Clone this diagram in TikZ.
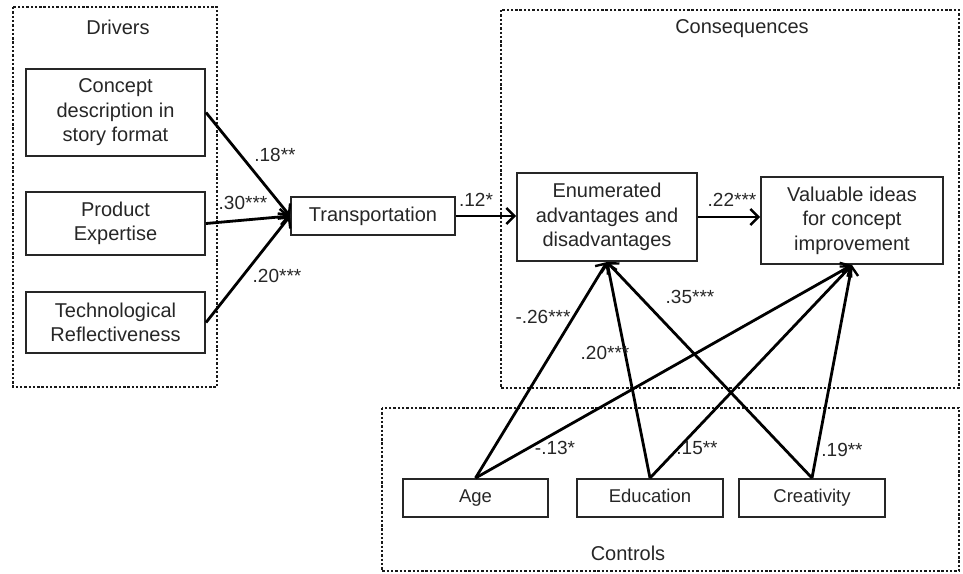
\documentclass[tikz,border=0pt]{standalone}
\usepackage{fontspec}
\setmainfont{Liberation Sans}
\usetikzlibrary{arrows.meta}
\begin{document}
\begin{tikzpicture}[x=1pt,y=-1pt,
  box/.style={draw=black!85, line width=2pt, rectangle, inner sep=0pt, align=center,
     font=\fontsize{20}{24.5}\selectfont, text=black!85},
  cbox/.style={box, font=\fontsize{18.5}{22}\selectfont, text height=13.5pt, text depth=4pt},
  group/.style={draw=black!90, line width=2.8pt, dash pattern=on 2.4pt off 1.9pt},
  gtitle/.style={font=\fontsize{20}{24}\selectfont, text=black!85, inner sep=0pt},
  lab/.style={font=\fontsize{19}{22}\selectfont, text=black!85, inner sep=0pt},
  arr/.style={draw=black, line width=2.8pt, -{Straight Barb[length=8pt,width=16pt,line width=2.4pt]}}
]
\useasboundingbox (0,0) rectangle (963,573);
% groups
\draw[group] (13,7) rectangle (217,387);
\draw[group] (501,10) rectangle (959,388);
\draw[group] (382,408) rectangle (959,571);
\node[gtitle] (tdrv) at (118,27) {Drivers};
\node[gtitle] (tcons) at (742,29) {Consequences};
\node[gtitle] (tctrl) at (628,553) {Controls};
% boxes
\node[box, minimum width=179pt, minimum height=87pt] (cd) at (115.5,112.5) {Concept\\description in\\story format};
\node[box, minimum width=179pt, minimum height=63pt] (pe) at (115.5,223.5) {Product\\Expertise};
\node[box, minimum width=179pt, minimum height=61pt] (tref) at (115.5,322.5) {Technological\\Reflectiveness};
\node[box, minimum width=164pt, minimum height=38pt] (trn) at (373,216) {Transportation};
\node[box, minimum width=180pt, minimum height=88pt] (en) at (607,217) {Enumerated\\advantages and\\disadvantages};
\node[box, minimum width=182pt, minimum height=87pt] (va) at (852,220.5) {Valuable ideas\\for concept\\improvement};
\node[cbox, minimum width=145pt, minimum height=38pt] (age) at (475.5,498) {Age};
\node[cbox, minimum width=146pt, minimum height=38pt] (edu) at (650,498) {Education};
\node[cbox, minimum width=146pt, minimum height=38pt] (cre) at (812,498) {Creativity};
% arrows
\draw[arr] (cd.east) -- (trn.west);
\draw[arr] (pe.east) -- (trn.west);
\draw[arr] (tref.east) -- (trn.west);
\draw[arr] (trn.east) -- (trn.east -| en.west);
\draw[arr] (en.east) -- (en.east -| va.west);
\draw[arr] (age.north) -- (en.south);
\draw[arr] (age.north) -- (va.south);
\draw[arr] (edu.north) -- (en.south);
\draw[arr] (edu.north) -- (va.south);
\draw[arr] (cre.north) -- (en.south);
\draw[arr] (cre.north) -- (va.south);
% labels
\node[lab] (l1) at (275,155) {.18**};
\node[lab] (l2) at (243,203) {.30***};
\node[lab] (l3) at (277,276) {.20***};
\node[lab] (l4) at (476,200) {.12*};
\node[lab] (l5) at (732,200) {.22***};
\node[lab] (l6) at (543,317) {-.26***};
\node[lab] (l7) at (605,353) {.20***};
\node[lab] (l8) at (690,297) {.35***};
\node[lab] (l9) at (555,448) {-.13*};
\node[lab] (l10) at (697,448) {.15**};
\node[lab] (l11) at (842,450) {.19**};
\end{tikzpicture}
\end{document}
